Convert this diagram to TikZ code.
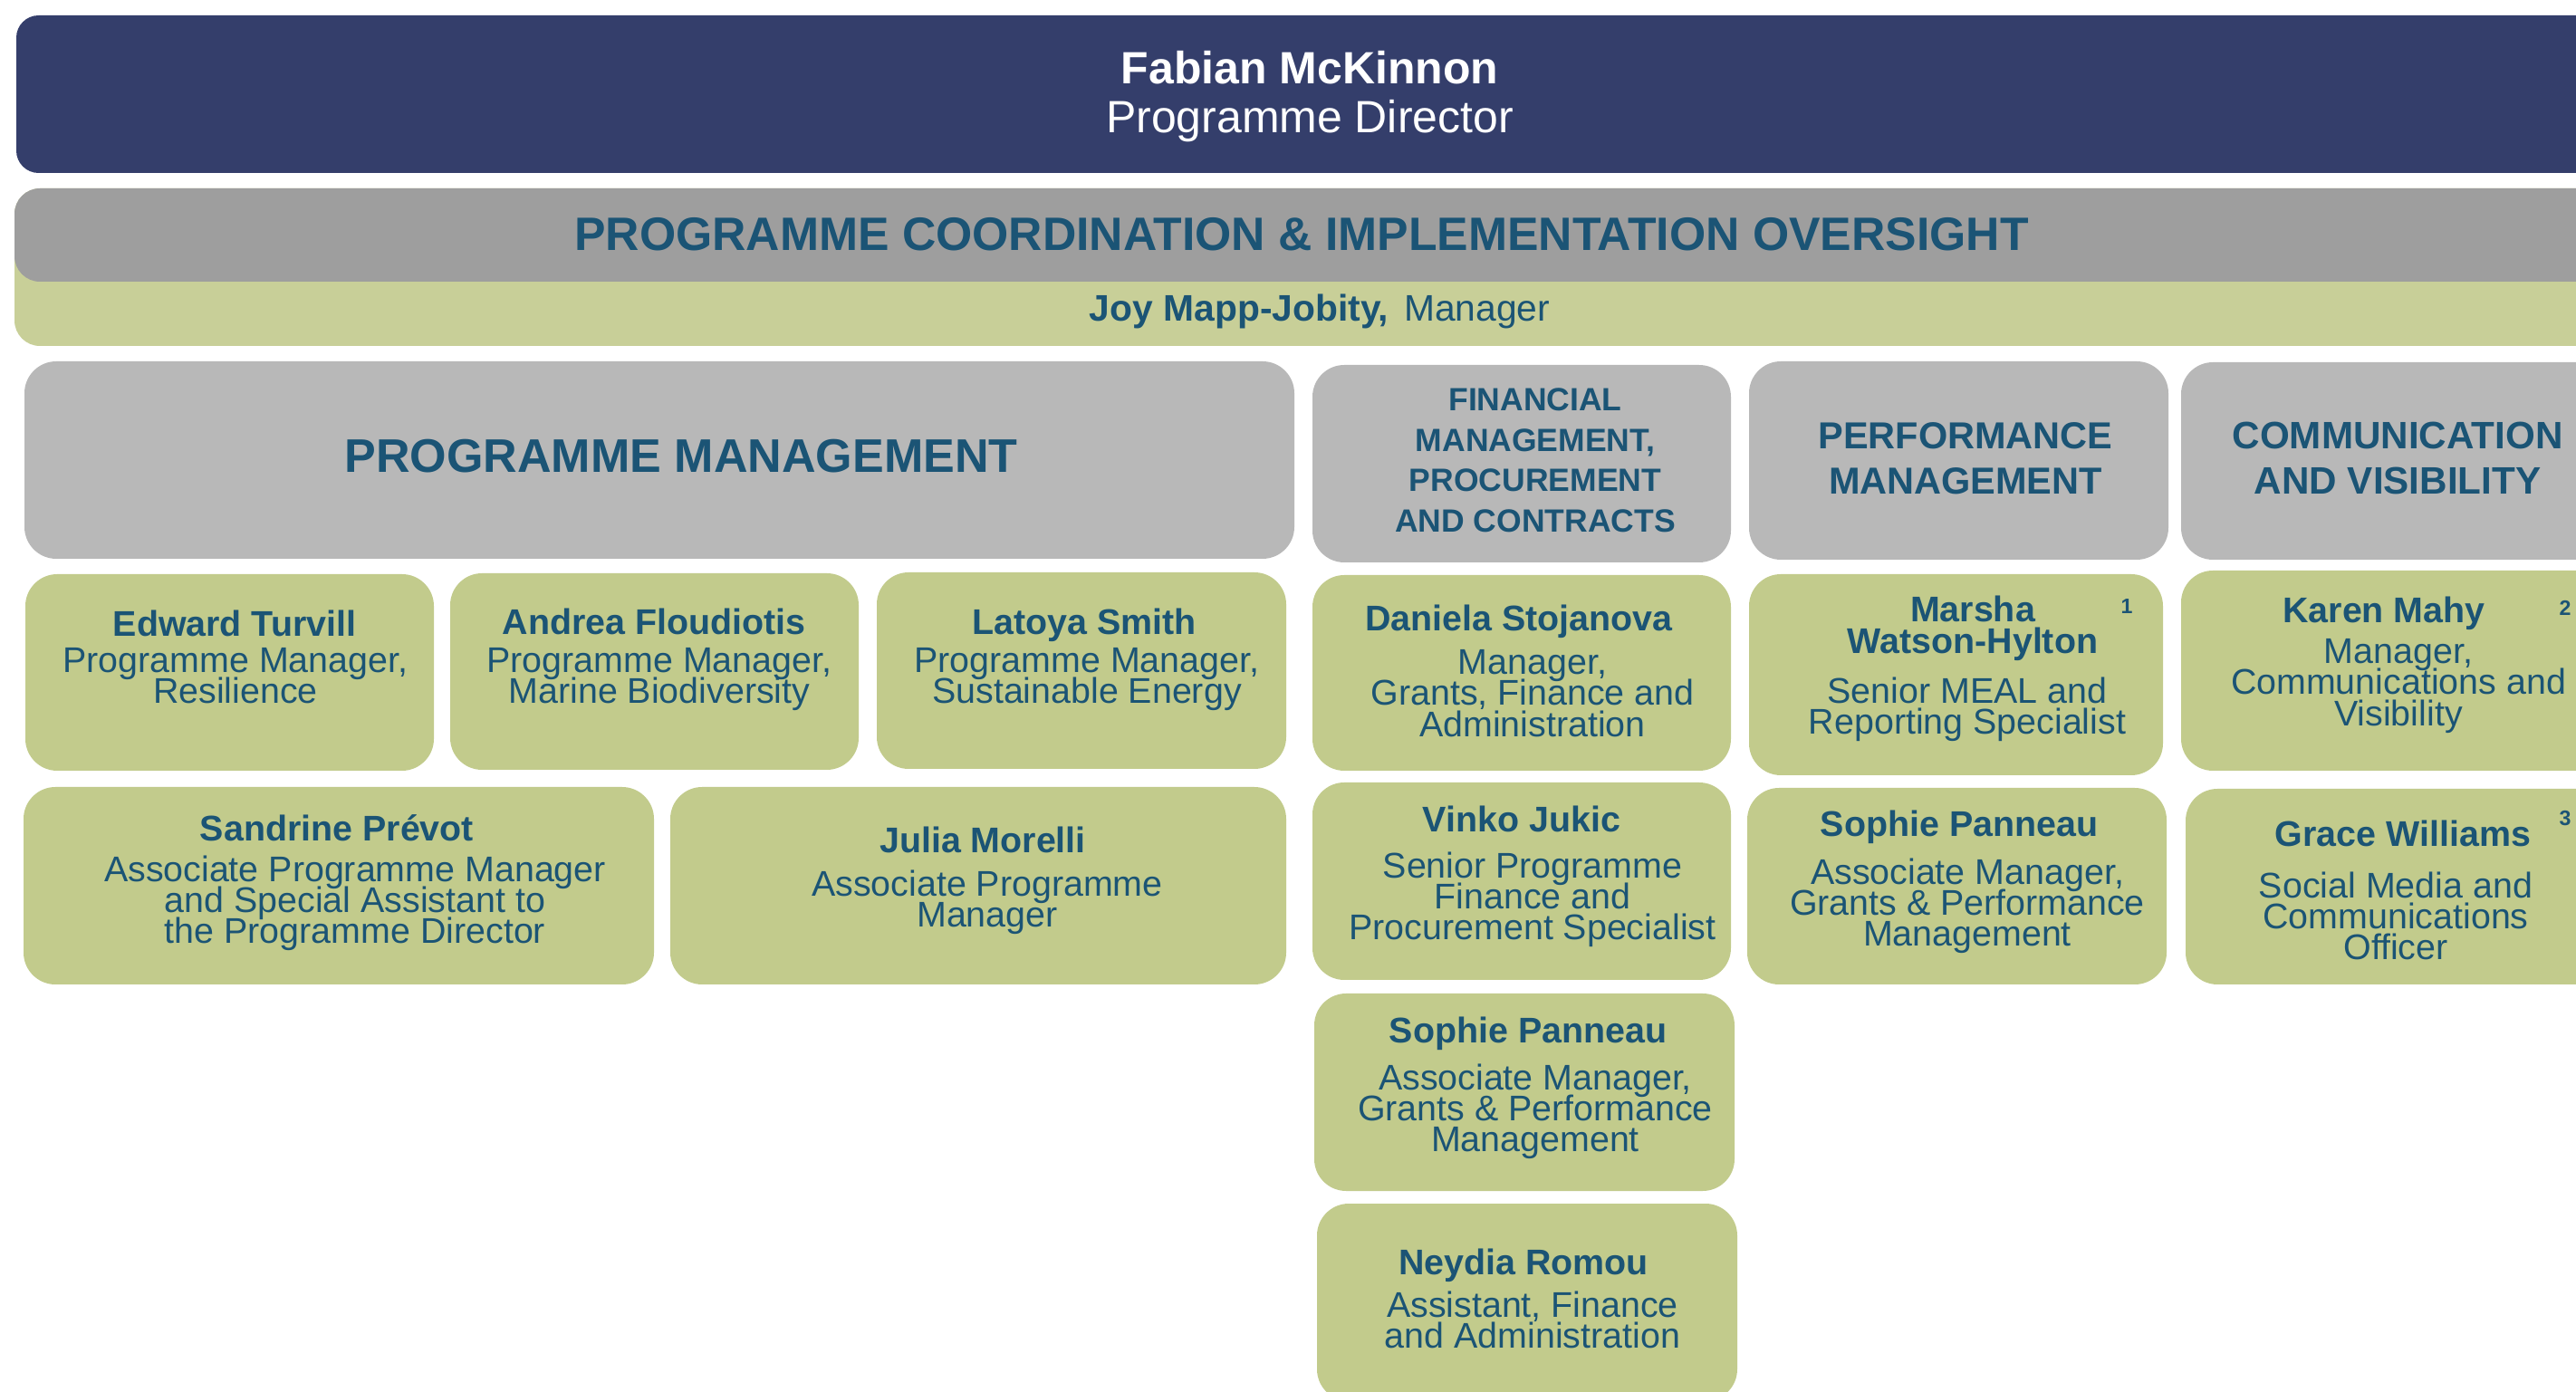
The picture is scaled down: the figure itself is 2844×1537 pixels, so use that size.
\documentclass[tikz,border=0pt]{standalone}
\usepackage{fontspec}
\setmainfont{Liberation Sans}
\definecolor{navy}{HTML}{343E6B}
\definecolor{bandgray}{HTML}{9E9E9E}
\definecolor{headgray}{HTML}{B8B8B8}
\definecolor{bandgreen}{HTML}{C8CF98}
\definecolor{boxgreen}{HTML}{C2CB8C}
\definecolor{ink}{HTML}{1B5475}
\newcommand\tightlead{\lineskiplimit=-20pt\relax}
\begin{document}
\begin{tikzpicture}[x=0.01cm,y=-0.01cm,
  headbox/.style={fill=headgray,rounded corners=10pt},
  staffbox/.style={fill=boxgreen,rounded corners=10pt},
  headtext/.style={text=ink,align=center,inner sep=0pt,anchor=north},
  staffname/.style={text=ink,inner sep=0pt,anchor=base,font=\fontsize{11.2}{10}\selectfont\bfseries},
  staffrole/.style={text=ink,align=center,inner sep=0pt,anchor=north,font=\fontsize{11.2}{9.7}\selectfont\tightlead},
  footmark/.style={text=ink,inner sep=0pt,font=\fontsize{6.6}{7}\selectfont\bfseries}]
\clip (0,0) rectangle (2844,1537);
% director banner
\fill[navy,rounded corners=7pt] (18,17) rectangle (2900,191);
\node[text=white,inner sep=0pt,anchor=base,font=\fontsize{14.2}{16}\selectfont\bfseries] (director) at (1446,93) {Fabian McKinnon};
\node[text=white,inner sep=0pt,anchor=base,font=\fontsize{14.2}{16}\selectfont] (directorrole) at (1446,147) {Programme Director};
% coordination band
\fill[bandgreen,rounded corners=8pt] (16,208) rectangle (2900,382);
\fill[bandgray,rounded corners=8pt] (16,208) rectangle (2900,311);
\node[text=ink,inner sep=0pt,anchor=base,font=\fontsize{14.7}{16}\selectfont\bfseries] (oversight) at (1437,277) {PROGRAMME COORDINATION \& IMPLEMENTATION OVERSIGHT};
\node[text=ink,inner sep=0pt,anchor=base,font=\fontsize{11.6}{13}\selectfont] (coordinator) at (1457,355) {\textbf{Joy Mapp-Jobity,}\hspace{4.8pt}Manager};
% unit headers
\fill[headbox] (27,399) rectangle (1429,617);
\node[headtext,anchor=base,font=\fontsize{14.8}{16}\selectfont\bfseries] (pmhead) at (752,522) {PROGRAMME MANAGEMENT};
\fill[headbox] (1449,403) rectangle (1911,621);
\node[headtext,font=\fontsize{10.1}{12.7}\selectfont\bfseries\tightlead] (finhead) at (1695,428) {FINANCIAL\\MANAGEMENT,\\PROCUREMENT\\AND CONTRACTS};
\fill[headbox] (1931,399) rectangle (2394,618);
\node[headtext,font=\fontsize{11.8}{14.2}\selectfont\bfseries\tightlead] (perfhead) at (2170,466) {PERFORMANCE\\MANAGEMENT};
\fill[headbox] (2408,400) rectangle (2900,618);
\node[headtext,font=\fontsize{12}{14.2}\selectfont\bfseries\tightlead] (commhead) at (2647,465) {COMMUNICATION\\AND VISIBILITY};
% programme management
\fill[staffbox] (28,634) rectangle (479,851);
\node[staffname] (edward) at (259,703) {Edward Turvill};
\node[staffrole] (edwardrole) at (260,715) {Programme Manager,\\Resilience};
\fill[staffbox] (497,633) rectangle (948,850);
\node[staffname] (andrea) at (722,701) {Andrea Floudiotis};
\node[staffrole] (andrearole) at (728,715) {Programme Manager,\\Marine Biodiversity};
\fill[staffbox] (968,632) rectangle (1420,849);
\node[staffname] (latoya) at (1197,701) {Latoya Smith};
\node[staffrole] (latoyarole) at (1200,715) {Programme Manager,\\Sustainable Energy};
\fill[staffbox] (26,869) rectangle (722,1087);
\node[staffname] (sandrine) at (372,929) {Sandrine Prévot};
\node[staffrole] (sandrinerole) at (392,944) {Associate Programme Manager\\and Special Assistant to\\the Programme Director};
\fill[staffbox] (740,869) rectangle (1420,1087);
\node[staffname] (julia) at (1085,942) {Julia Morelli};
\node[staffrole] (juliarole) at (1090,960) {Associate Programme\\Manager};
% finance
\fill[staffbox] (1449,635) rectangle (1911,851);
\node[staffname] (daniela) at (1677,697) {Daniela Stojanova};
\node[staffrole] (danielarole) at (1692,717) {Manager,\\Grants, Finance and\\Administration};
\fill[staffbox] (1449,864) rectangle (1911,1082);
\node[staffname] (vinko) at (1680,919) {Vinko Jukic};
\node[staffrole] (vinkorole) at (1692,940) {Senior Programme\\Finance and\\Procurement Specialist};
\fill[staffbox] (1451,1097) rectangle (1915,1315);
\node[staffname] (sophiefin) at (1687,1152) {Sophie Panneau};
\node[staffrole] (sophiefinrole) at (1695,1174) {Associate Manager,\\Grants \& Performance\\Management};
\fill[staffbox] (1454,1329) rectangle (1918,1547);
\node[staffname] (neydia) at (1682,1407) {Neydia Romou};
\node[staffrole] (neydiarole) at (1692,1425) {Assistant, Finance\\and Administration};
% performance
\fill[staffbox] (1931,634) rectangle (2388,856);
\node[staffname,anchor=north,align=center,font=\fontsize{11.2}{10}\selectfont\bfseries\tightlead] (marsha) at (2178,657) {Marsha\\Watson-Hylton};
\node[staffrole] (marsharole) at (2172,747) {Senior MEAL and\\Reporting Specialist};
\node[footmark] (mark1) at (2348,670) {1};
\fill[staffbox] (1929,870) rectangle (2392,1087);
\node[staffname] (sophieperf) at (2163,924) {Sophie Panneau};
\node[staffrole] (sophieperfrole) at (2172,947) {Associate Manager,\\Grants \& Performance\\Management};
% communication
\fill[staffbox] (2408,630) rectangle (2900,851);
\node[staffname] (karen) at (2632,688) {Karen Mahy};
\node[staffrole] (karenrole) at (2648,705) {Manager,\\Communications and\\Visibility};
\node[footmark] (mark2) at (2832,671) {2};
\fill[staffbox] (2413,871) rectangle (2900,1087);
\node[staffname] (grace) at (2653,935) {Grace Williams};
\node[staffrole] (gracerole) at (2645,962) {Social Media and\\Communications\\Officer};
\node[footmark] (mark3) at (2832,904) {3};
\end{tikzpicture}
\end{document}
